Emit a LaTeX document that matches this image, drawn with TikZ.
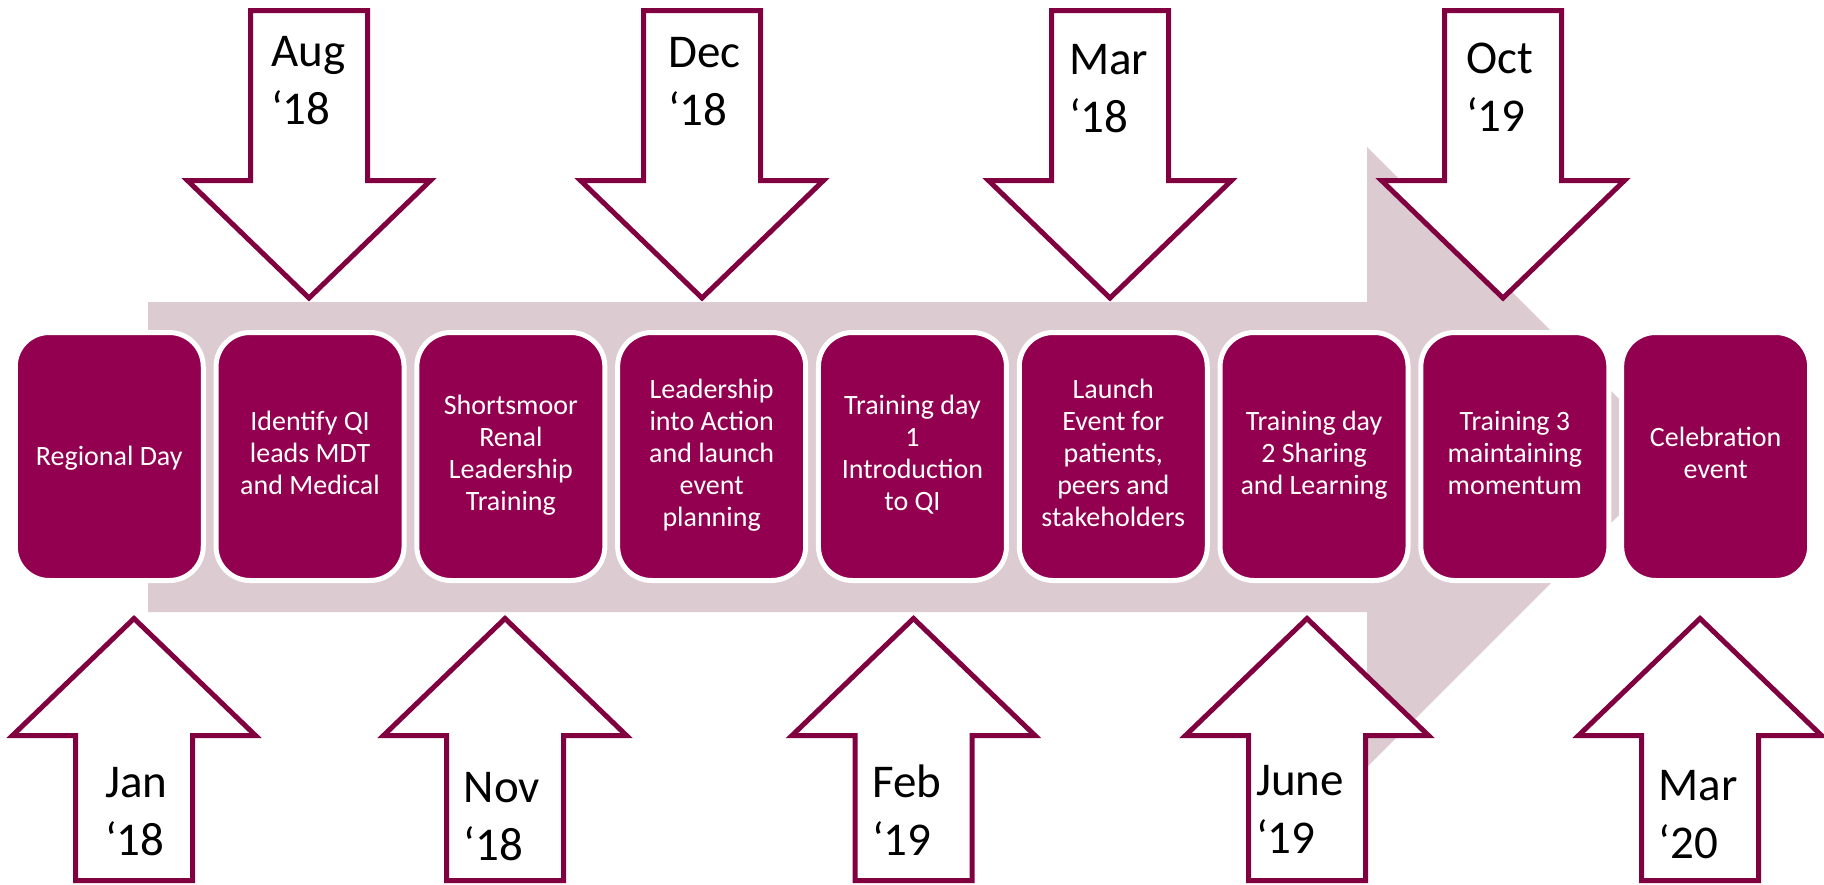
\documentclass[tikz,border=0pt]{standalone}
\usepackage{fontspec}
\setmainfont{Carlito}
\definecolor{bandpink}{RGB}{220,203,209}
\definecolor{stagefill}{RGB}{147,0,80}
\definecolor{callline}{RGB}{128,0,64}
% strut giving every stage text the same first-line height and last-line depth
\newcommand\stagestrut{\rule[-7pt]{0pt}{32pt}}
% two-line month/year label, baseline on its first line
\newcommand\datetxt[2]{\begin{tabular}[t]{@{}l@{}}#1\\#2\end{tabular}}
\begin{document}
\begin{tikzpicture}[x=1pt,y=-1pt,
  stage/.style={draw=white, line width=5pt, fill=stagefill, rounded corners=34pt,
    minimum width=188pt, minimum height=248pt, inner sep=0pt, text=white,
    align=center, font=\fontsize{28}{32}\selectfont,
    execute at begin node=\stagestrut, execute at end node=\stagestrut},
  datelbl/.style={anchor=base west, inner sep=0pt, text=black,
    font=\fontsize{47}{58}\selectfont},
  callout/.style={draw=callline, fill=white, line width=5pt, line join=miter},
  downcall/.pic={
    \draw[callout] (-58.5,10.5) -- (58.5,10.5) -- (58.5,180.5) -- (121.5,180.5)
      -- (0,298) -- (-121.5,180.5) -- (-58.5,180.5) -- cycle;},
  upcall/.pic={
    \draw[callout] (-58.5,880.5) -- (58.5,880.5) -- (58.5,735.5) -- (121.5,735.5)
      -- (0,618.5) -- (-121.5,735.5) -- (-58.5,735.5) -- cycle;}
]
\useasboundingbox (0,0) rectangle (1824,884);

% broad timeline arrow behind the stages
\fill[bandpink] (148,302) -- (1367,302) -- (1367,147) -- (1677,457)
  -- (1367,767) -- (1367,612) -- (148,612) -- cycle;

% stages
\node[stage] (s1) at (109.25,456.5) {Regional Day};
\node[stage] (s2) at (310.05,456.5) {Identify QI\\leads MDT\\and Medical};
\node[stage] (s3) at (510.85,456.5) {Shortsmoor\\Renal\\Leadership\\Training};
\node[stage] (s4) at (711.65,456.5) {Leadership\\into Action\\and launch\\event\\planning};
\node[stage] (s5) at (912.45,456.5) {Training day\\1\\Introduction\\to QI};
\node[stage] (s6) at (1113.25,456.5) {Launch\\Event for\\patients,\\peers and\\stakeholders};
\node[stage] (s7) at (1314.05,456.5) {Training day\\2 Sharing\\and Learning};
\node[stage] (s8) at (1514.85,456.5) {Training 3\\maintaining\\momentum};
\node[stage] (s9) at (1715.65,456.5) {Celebration\\event};

% date call-outs above the timeline
\pic (caug) at (309,0) {downcall};
\pic (cdec) at (702,0) {downcall};
\pic (cmar) at (1110,0) {downcall};
\pic (coct) at (1503,0) {downcall};

% date call-outs below the timeline
\pic (cjan) at (134,0) {upcall};
\pic (cnov) at (505,0) {upcall};
\pic (cfeb) at (913.5,0) {upcall};
\pic (cjun) at (1307,0) {upcall};
\pic (cmar20) at (1700,0) {upcall};

% dates
\node[datelbl] (laug) at (271,66) {\datetxt{Aug}{‘18}};
\node[datelbl] (ldec) at (668,67) {\datetxt{Dec}{‘18}};
\node[datelbl] (lmar) at (1069,74) {\datetxt{Mar}{‘18}};
\node[datelbl] (loct) at (1466,73) {\datetxt{Oct}{‘19}};
\node[datelbl] (ljan) at (105,797) {\datetxt{Jan}{‘18}};
\node[datelbl] (lnov) at (463.5,802) {\datetxt{Nov}{‘18}};
\node[datelbl] (lfeb) at (872,797) {\datetxt{Feb}{‘19}};
\node[datelbl] (ljun) at (1256,795) {\datetxt{June}{‘19}};
\node[datelbl] (lmar20) at (1658.5,800) {\datetxt{Mar}{‘20}};
\end{tikzpicture}
\end{document}
